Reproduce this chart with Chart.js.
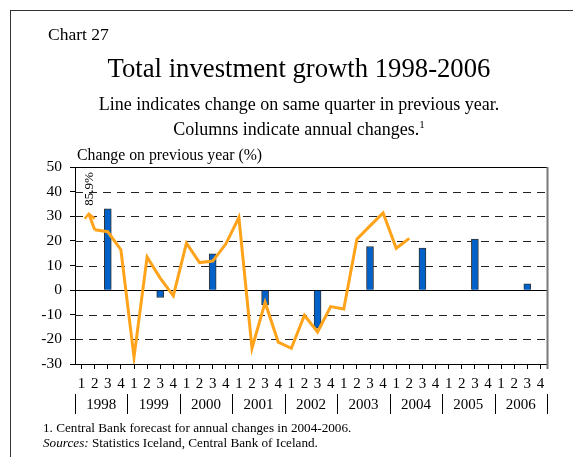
<!DOCTYPE html>
<html>
<head>
<meta charset="utf-8">
<script src="https://cdn.jsdelivr.net/npm/chart.js@4/dist/chart.umd.min.js"></script>
<style>
  html, body { margin: 0; padding: 0; background: #fff; }
  #wrap { position: relative; width: 573px; height: 457px; overflow: hidden; font-family: "Liberation Serif", "Times New Roman", serif; color: #000; }
  #frame { position: absolute; left: 10px; top: 10px; width: 600px; height: 500px; border-left: 1px solid #333; border-top: 1px solid #333; }
  canvas { position: absolute; left: 0; top: 0; }
  .t { position: absolute; white-space: nowrap; line-height: 1; }
  #chartNo { left: 48px; top: 26px; font-size: 17.5px; }
  #title { left: 0; width: 598px; text-align: center; top: 55px; font-size: 26.7px; }
  #sub1 { left: 0; width: 598px; text-align: center; top: 95px; font-size: 18px; }
  #sub2 { left: 0; width: 598px; text-align: center; top: 120px; font-size: 18px; }
  #sub2 sup { font-size: 11px; vertical-align: 0; position: relative; top: -7px; }
  #unit { left: 77px; top: 147px; font-size: 15.8px; }
  #note1 { left: 43px; top: 421px; font-size: 13.2px; }
  #note2 { left: 43px; top: 436px; font-size: 13.2px; }
</style>
</head>
<body>
<div id="wrap">
  <div id="frame"></div>
  <canvas id="c" width="573" height="457"></canvas>
  <div class="t" id="chartNo">Chart 27</div>
  <div class="t" id="title">Total investment growth 1998-2006</div>
  <div class="t" id="sub1">Line indicates change on same quarter in previous year.</div>
  <div class="t" id="sub2">Columns indicate annual changes.<sup>1</sup></div>
  <div class="t" id="unit">Change on previous year (%)</div>
  <div class="t" id="note1">1. Central Bank forecast for annual changes in 2004-2006.</div>
  <div class="t" id="note2"><i>Sources:</i> Statistics Iceland, Central Bank of Iceland.</div>
</div>
<script>
// Years and quarters on the horizontal axis
const years = [1998, 1999, 2000, 2001, 2002, 2003, 2004, 2005, 2006];
const quarterLabels = ['1', '2', '3', '4'];

// Quarterly growth on the same quarter a year earlier (%), 1998 Q1 to 2004 Q2
const quarterlyGrowth = [
  85.9, 24.5, 23.7, 16.4,
  -27.2, 13.4, 4.9, -2.3,
  19.1, 11.2, 11.8, 18.7,
  29.5, -23.6, -5.0, -21.1,
  -23.6, -10.2, -17.0, -6.7,
  -7.7, 20.7, 26.1, 31.3,
  17.0, 21.0
];

// Annual change (%) for each year, shown as a column in the third quarter
const annualChange = [33.0, -3.0, 14.7, -6.0, -15.5, 17.7, 17.1, 20.7, 2.6];

// Value-axis range and steps
const yMin = -30, yMax = 50, yStep = 5, yLabelStep = 10;

const categories = [];
years.forEach(y => quarterLabels.forEach(q => categories.push(y + ' Q' + q)));

const lineData = categories.map((_, i) => {
  const v = quarterlyGrowth[i];
  if (v === undefined) return null;
  return v > yMax ? null : v;          // off-scale values are marked with an arrow
});
const barData = categories.map((_, i) => (i % 4 === 2 ? annualChange[Math.floor(i / 4)] : null));

const SERIF = '"Liberation Serif", "Times New Roman", serif';
const ORANGE = '#FFA31A';

// Dashed reference lines, zero line and frame of the plot
const gridPlugin = {
  id: 'gridLines',
  beforeDatasetsDraw(chart) {
    const { ctx, chartArea: a, scales: { y } } = chart;
    ctx.save();
    ctx.lineWidth = 1;
    ctx.strokeStyle = '#222';
    ctx.setLineDash([8, 6]);
    for (let v = yMin + yLabelStep; v < yMax; v += yLabelStep) {
      if (v === 0) continue;
      const py = Math.round(y.getPixelForValue(v)) + 0.5;
      ctx.beginPath(); ctx.moveTo(a.left, py); ctx.lineTo(a.right, py); ctx.stroke();
    }
    ctx.setLineDash([]);
    ctx.strokeStyle = '#000';
    const p0 = Math.round(y.getPixelForValue(0)) + 0.5;
    ctx.beginPath(); ctx.moveTo(a.left, p0); ctx.lineTo(a.right, p0); ctx.stroke();
    const pt = Math.round(a.top) + 0.5;
    ctx.beginPath(); ctx.moveTo(a.left, pt); ctx.lineTo(a.right, pt); ctx.stroke();
    ctx.strokeStyle = '#777';
    ctx.lineWidth = 2;
    ctx.beginPath(); ctx.moveTo(a.right + 0.5, a.top); ctx.lineTo(a.right + 0.5, a.bottom + 5); ctx.stroke();
    ctx.restore();
  }
};

// Arrow and value label for quarterly values above the top of the axis
const offScalePlugin = {
  id: 'offScale',
  afterDatasetsDraw(chart) {
    const { ctx, scales: { x, y } } = chart;
    quarterlyGrowth.forEach((v, i) => {
      if (v <= yMax) return;
      const next = quarterlyGrowth[i + 1];
      const x0 = x.getPixelForValue(i + 1), y0 = y.getPixelForValue(next);
      const x1 = x.getPixelForValue(i) + 0.55 * (x0 - x.getPixelForValue(i));
      const y1 = y.getPixelForValue(31);
      ctx.save();
      ctx.strokeStyle = ORANGE;
      ctx.lineWidth = 3;
      ctx.lineJoin = 'miter';
      ctx.beginPath(); ctx.moveTo(x0, y0); ctx.lineTo(x1, y1); ctx.stroke();
      ctx.lineWidth = 2.5;
      ctx.beginPath();
      ctx.moveTo(x1 - 4, y1 + 5); ctx.lineTo(x1, y1); ctx.lineTo(x1 + 6, y1 + 5);
      ctx.stroke();
      ctx.translate(x1 + 0.5, y1 - 8);
      ctx.rotate(-Math.PI / 2);
      ctx.fillStyle = '#000';
      ctx.font = '13px ' + SERIF;
      ctx.textAlign = 'left';
      ctx.textBaseline = 'middle';
      ctx.fillText(v.toFixed(1) + '%', 0, 0);
      ctx.restore();
    });
  }
};

// Year captions with separators under the quarter numbers
const yearPlugin = {
  id: 'yearAxis',
  afterDraw(chart) {
    const { ctx, scales: { x } } = chart;
    const step = x.getPixelForValue(1) - x.getPixelForValue(0);
    ctx.save();
    ctx.fillStyle = '#000';
    ctx.strokeStyle = '#000';
    ctx.lineWidth = 1;
    ctx.font = '15px ' + SERIF;
    ctx.textAlign = 'center';
    ctx.textBaseline = 'middle';
    years.forEach((yr, k) => {
      const first = x.getPixelForValue(k * 4);
      const left = Math.round(first - step / 2) + 0.5;
      ctx.beginPath(); ctx.moveTo(left, 394); ctx.lineTo(left, 414); ctx.stroke();
      ctx.fillText(String(yr), first + 1.5 * step, 405);
    });
    const end = Math.round(x.getPixelForValue(categories.length - 1) + step / 2) + 0.5;
    ctx.beginPath(); ctx.moveTo(end, 394); ctx.lineTo(end, 414); ctx.stroke();
    ctx.restore();
  }
};

new Chart(document.getElementById('c'), {
  type: 'bar',
  data: {
    labels: categories,
    datasets: [
      {
        type: 'line',
        data: lineData,
        borderColor: ORANGE,
        borderWidth: 3,
        pointRadius: 0,
        tension: 0,
        spanGaps: false,
        order: 0
      },
      {
        type: 'bar',
        data: barData,
        backgroundColor: '#0062C8',
        borderColor: '#333',
        borderWidth: 1,
        barThickness: 7,
        order: 1
      }
    ]
  },
  options: {
    responsive: false,
    animation: false,
    devicePixelRatio: 1,
    layout: { padding: { left: 0, right: 26, top: 167, bottom: 63 } },
    plugins: { legend: { display: false }, tooltip: { enabled: false } },
    scales: {
      x: {
        offset: true,
        grid: { drawOnChartArea: false, offset: false, drawTicks: true, tickLength: 5, tickColor: '#000', tickWidth: 1 },
        border: { display: true, color: '#000', width: 1 },
        ticks: {
          autoSkip: false, maxRotation: 0, minRotation: 0, padding: 6,
          color: '#000', font: { family: SERIF, size: 15 },
          callback: (v, i) => quarterLabels[i % 4]
        },
        afterFit: s => { s.height = 30; }
      },
      y: {
        min: yMin, max: yMax,
        grid: { drawOnChartArea: false, drawTicks: true, tickLength: 5, tickColor: '#000', tickWidth: 1 },
        border: { display: true, color: '#000', width: 1 },
        ticks: {
          stepSize: yStep, padding: 8, color: '#000',
          font: { family: SERIF, size: 15.5 },
          callback: v => (v % yLabelStep === 0 ? String(v) : '')
        },
        afterFit: s => { s.width = 75; }
      }
    }
  },
  plugins: [gridPlugin, offScalePlugin, yearPlugin]
});
</script>
</body>
</html>
